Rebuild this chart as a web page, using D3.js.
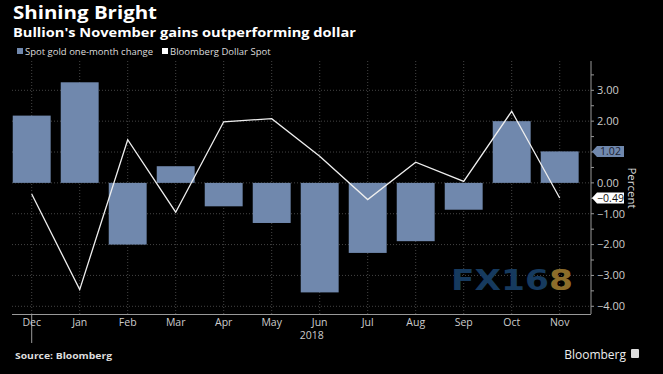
<!DOCTYPE html>
<html>
<head>
<meta charset="utf-8">
<script src="https://cdn.jsdelivr.net/npm/d3@7"></script>
<style>
  html, body { margin: 0; padding: 0; background: #000; }
  svg { display: block; font-family: "Open Sans", "DejaVu Sans", sans-serif; }
</style>
</head>
<body>
<svg width="663" height="374"></svg>
<script>
var months = ["Dec", "Jan", "Feb", "Mar", "Apr", "May", "Jun", "Jul", "Aug", "Sep", "Oct", "Nov"]
var goldChange = [2.18, 3.26, -2.0, 0.54, -0.76, -1.30, -3.55, -2.27, -1.89, -0.87, 2.0, 1.02]
var dollarSpot = [-0.36, -3.46, 1.40, -0.95, 1.98, 2.08, 0.86, -0.54, 0.67, 0.05, 2.32, -0.49]
var yTicks = [3, 2, 1, 0, -1, -2, -3, -4]

var BAR = "#7088ad"

var svg = d3.select("svg")
svg.append("rect").attr("width", 663).attr("height", 374).attr("fill", "#000")

var x = d3.scaleBand()
    .domain(months)
    .range([7.7, 583.7])
    .paddingInner(0.21)
    .paddingOuter(0.105)

var y = d3.scaleLinear()
    .domain([-4.25, 3.95])
    .range([314, 61])

var plotLeft = 12, plotRight = 591

// titles
svg.append("text").attr("x", 13).attr("y", 19)
    .attr("font-size", 18).attr("font-weight", "bold").attr("fill", "#fff")
    .attr("textLength", 144).attr("lengthAdjust", "spacingAndGlyphs")
    .text("Shining Bright")
svg.append("text").attr("x", 13).attr("y", 37)
    .attr("font-size", 13).attr("font-weight", "bold").attr("fill", "#fff")
    .attr("textLength", 343).attr("lengthAdjust", "spacingAndGlyphs")
    .text("Bullion's November gains outperforming dollar")

// legend
var legend = svg.append("g").attr("font-size", 9.5).attr("fill", "#ddd")
legend.append("rect").attr("x", 17).attr("y", 48).attr("width", 6).attr("height", 6).attr("fill", BAR)
legend.append("text").attr("x", 25).attr("y", 55).text("Spot gold one-month change")
legend.append("rect").attr("x", 162).attr("y", 48).attr("width", 6).attr("height", 6).attr("fill", "#fff")
legend.append("text").attr("x", 170).attr("y", 55).text("Bloomberg Dollar Spot")

// gridlines
var grid = svg.append("g").attr("stroke", "#555").attr("stroke-width", 0.8).attr("stroke-dasharray", "1,2")
grid.selectAll(".hg").data(yTicks).enter().append("line")
    .attr("x1", plotLeft).attr("x2", plotRight)
    .attr("y1", function(d) { return y(d) }).attr("y2", function(d) { return y(d) })
grid.selectAll(".vg").data(months).enter().append("line")
    .attr("x1", function(d) { return x(d) + x.bandwidth() / 2 })
    .attr("x2", function(d) { return x(d) + x.bandwidth() / 2 })
    .attr("y1", 61).attr("y2", 314)

// watermark
var wm = svg.append("text").attr("x", 451).attr("y", 290)
    .attr("font-size", 29).attr("font-weight", "bold")
    .attr("font-family", "Verdana, 'DejaVu Sans', sans-serif")
    .attr("textLength", 122).attr("lengthAdjust", "spacingAndGlyphs")
wm.append("tspan").attr("fill", "#163a5e").text("FX16")
wm.append("tspan").attr("fill", "#8c6d2a").text("8")

// bars
svg.append("g").selectAll("rect").data(goldChange).enter().append("rect")
    .attr("x", function(d, i) { return x(months[i]) })
    .attr("width", x.bandwidth())
    .attr("y", function(d) { return y(Math.max(0, d)) })
    .attr("height", function(d) { return Math.abs(y(d) - y(0)) })
    .attr("fill", BAR)

// line
var line = d3.line()
    .x(function(d, i) { return x(months[i]) + x.bandwidth() / 2 })
    .y(function(d) { return y(d) })
svg.append("path").datum(dollarSpot)
    .attr("d", line).attr("fill", "none")
    .attr("stroke", "#eee").attr("stroke-width", 1.3)

// bottom axis
svg.append("line").attr("x1", plotLeft).attr("x2", plotRight)
    .attr("y1", 314.5).attr("y2", 314.5).attr("stroke", "#999")
svg.append("line").attr("x1", x("Dec") + x.bandwidth() / 2).attr("x2", x("Dec") + x.bandwidth() / 2)
    .attr("y1", 315).attr("y2", 343).attr("stroke", "#999")
svg.append("g").selectAll("text").data(months).enter().append("text")
    .attr("x", function(d) { return x(d) + x.bandwidth() / 2 })
    .attr("y", 326).attr("text-anchor", "middle")
    .attr("font-size", 10.5).attr("fill", "#ccc")
    .text(function(d) { return d })
svg.append("text").attr("x", x("Jun") + x.bandwidth() / 2 - 8).attr("y", 339)
    .attr("text-anchor", "middle").attr("font-size", 10.5).attr("fill", "#ccc").text("2018")

// right axis (1.00 label sits under the gold value tag)
var ya = svg.append("g").attr("transform", "translate(591,0)")
ya.append("line").attr("y1", 61).attr("y2", 314).attr("stroke", "#999")
ya.selectAll(".mt").data(d3.range(-4, 4, 0.5)).enter().append("line")
    .attr("x1", 0).attr("x2", 3)
    .attr("y1", function(d) { return y(d) }).attr("y2", function(d) { return y(d) })
    .attr("stroke", "#999")
ya.selectAll(".tl").data(yTicks.filter(function(d) { return d !== 1 })).enter().append("text")
    .attr("x", 6).attr("y", function(d) { return y(d) }).attr("dy", "0.35em")
    .attr("font-size", 11).attr("fill", "#ccc")
    .text(function(d) { return d3.format(".2f")(d) })

svg.append("text").attr("transform", "translate(628,188) rotate(90)")
    .attr("text-anchor", "middle").attr("font-size", 11.5).attr("fill", "#ddd").text("Percent")

// value tags
function tag(v, fill, color) {
  var cy = y(v)
  var g = svg.append("g")
  g.append("path")
      .attr("d", "M592," + cy + "L597," + (cy - 5.5) + "H624V" + (cy + 5.5) + "H597Z")
      .attr("fill", fill)
  g.append("text").attr("x", 610.5).attr("y", cy).attr("dy", "0.35em")
      .attr("text-anchor", "middle").attr("font-size", 10.5).attr("fill", color)
      .text(d3.format(".2f")(v))
}
tag(goldChange[11], BAR, "#1a2233")
tag(dollarSpot[11], "#fff", "#111")

// footer
svg.append("text").attr("x", 15).attr("y", 359)
    .attr("font-size", 9.5).attr("font-weight", "bold").attr("fill", "#ddd")
    .attr("textLength", 97).attr("lengthAdjust", "spacingAndGlyphs")
    .text("Source: Bloomberg")
svg.append("text").attr("x", 626).attr("y", 359).attr("text-anchor", "end")
    .attr("font-size", 12).attr("fill", "#eee").text("Bloomberg")
svg.append("rect").attr("x", 631).attr("y", 349).attr("width", 8).attr("height", 9)
    .attr("rx", 1).attr("fill", "#ddd")
</script>
</body>
</html>
